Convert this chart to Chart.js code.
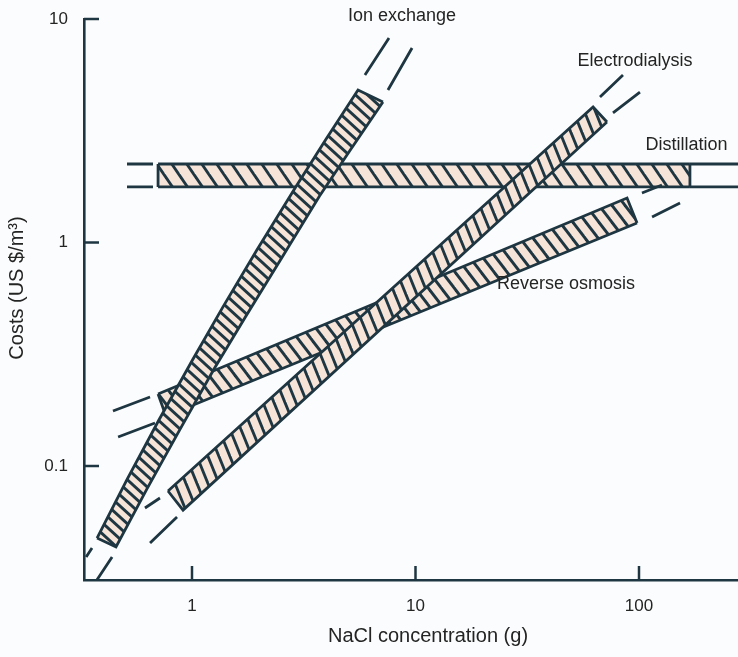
<!DOCTYPE html>
<html>
<head>
<meta charset="utf-8">
<title>Desalination costs</title>
<script src="https://cdn.jsdelivr.net/npm/chart.js@4.4.1/dist/chart.umd.min.js"></script>
<style>
    html, body { margin: 0; padding: 0; background: #fbfcfd; }
    canvas { display: block; }
</style>
</head>
<body>
<canvas id="chart" width="738" height="657"></canvas>
<script>
// Costs (US $/m3) of desalination processes against NaCl concentration, log-log

const X_TICKS = [1, 10, 100];
const Y_TICKS = [0.1, 1, 10];

// Each band is an outline split in two chains that share the first and last corner,
// so the hatched fill can run between them. Values are [g NaCl, US $/m3].
const IX_UPPER = [
    [0.376, 0.0476], [0.511, 0.0866], [0.712, 0.161], [1.005, 0.298], [1.376, 0.515],
    [1.951, 0.926], [2.911, 1.772], [3.956, 2.874], [5.53, 4.81], [7.15, 4.25]
];
const IX_LOWER = [
    [0.376, 0.0476], [0.457, 0.0434], [0.627, 0.0786], [0.881, 0.145], [1.253, 0.271],
    [1.728, 0.462], [2.471, 0.827], [3.715, 1.609], [5.082, 2.575], [7.15, 4.25]
];
const ED_UPPER = [[0.781, 0.0773], [62.3, 4.04], [71.9, 3.46]];
const ED_LOWER = [[0.781, 0.0773], [0.912, 0.0635], [71.9, 3.46]];
const RO_UPPER = [[0.705, 0.210], [88.4, 1.582], [98.0, 1.222]];
const RO_LOWER = [[0.705, 0.210], [0.765, 0.167], [98.0, 1.222]];
const DI_UPPER = [[0.705, 2.245], [169, 2.245]];
const DI_LOWER = [[0.705, 1.772], [169, 1.772]];

// extrapolated edges beyond each band (pairs of end points)
const IX_EXT = [
    [[0.357, 0.0430], [0.336, 0.0392]],
    [[0.439, 0.0392], [0.376, 0.0310]],
    [[5.94, 5.62], [7.61, 8.22]],
    [[7.53, 4.81], [9.65, 7.42]]
];
const ED_EXT = [
    [[0.719, 0.0719], [0.616, 0.0649]],
    [[0.857, 0.0591], [0.649, 0.0452]],
    [[66.9, 4.48], [84.8, 5.62]],
    [[76.5, 3.80], [101, 4.71]]
];
const RO_EXT = [
    [[0.649, 0.2035], [0.443, 0.1763]],
    [[0.683, 0.1557], [0.467, 0.1348]],
    [[103.1, 1.665], [126.7, 1.808]],
    [[114.4, 1.300], [152.6, 1.502]]
];
const DI_EXT = [
    [[0.512, 2.245], [0.669, 2.245]],
    [[0.512, 1.772], [0.669, 1.772]],
    [[0.705, 2.245], [0.705, 1.772]],
    [[169, 2.245], [169, 1.772]],
    [[169, 2.245], [290, 2.245]],
    [[169, 1.772], [290, 1.772]]
];

const LABELS = ['Ion exchange', 'Electrodialysis', 'Distillation', 'Reverse osmosis'];
const LABEL_X = [8.70, 96.0, 163, 47.1];
const LABEL_Y = [9.8, 6.16, 2.59, 0.62];

const INK = '#1e3641';
const TEXT = '#242424';
const BAND_BG = '#f7e4d9';
const FONT = "'Liberation Sans', Arial, Helvetica, sans-serif";

Chart.defaults.font.family = FONT;

// diagonal "\" hatching: step = horizontal spacing, angle from horizontal
function hatch(step, angle, lineW) {
    const w = step;
    const h = Math.max(1, Math.round(step * Math.tan(angle * Math.PI / 180)));
    const c = document.createElement('canvas');
    c.width = w;
    c.height = h;
    const g = c.getContext('2d');
    g.fillStyle = BAND_BG;
    g.fillRect(0, 0, w, h);
    g.strokeStyle = INK;
    g.lineWidth = lineW;
    [-w, 0, w].forEach(dx => {
        g.beginPath();
        g.moveTo(dx - w, -h);
        g.lineTo(dx + 2 * w, 2 * h);
        g.stroke();
    });
    return g.createPattern(c, 'repeat');
}

const pt = ([x, y]) => ({ x, y });

function segs(list) {
    const out = [];
    list.forEach(([a, b]) => {
        out.push(pt(a), pt(b), { x: b[0], y: null });
    });
    return out;
}

const lineStyle = {
    borderColor: INK,
    borderWidth: 2.8,
    pointRadius: 0,
    tension: 0,
    fill: false
};

function band(upper, lower, ext, pattern) {
    return [
        Object.assign({}, lineStyle, { data: segs(ext) }),
        Object.assign({}, lineStyle, { data: lower.map(pt) }),
        Object.assign({}, lineStyle, { data: upper.map(pt), fill: '-1', backgroundColor: pattern })
    ];
}

// first band in the list ends up on top
const datasets = [].concat(
    band(IX_UPPER, IX_LOWER, IX_EXT, hatch(12, 42, 2.9)),
    band(ED_UPPER, ED_LOWER, ED_EXT, hatch(11, 68, 2.9)),
    band(RO_UPPER, RO_LOWER, RO_EXT, hatch(13, 52, 2.9)),
    band(DI_UPPER, DI_LOWER, DI_EXT, hatch(15, 56, 2.9))
);

// tick marks point into the plot
const inwardTicks = {
    id: 'inwardTicks',
    afterDraw(chart) {
        const { ctx, chartArea: a } = chart;
        const x = chart.scales.x;
        const y = chart.scales.y;
        ctx.save();
        ctx.strokeStyle = INK;
        ctx.lineWidth = 2.5;
        X_TICKS.forEach(v => {
            const px = x.getPixelForValue(v);
            ctx.beginPath();
            ctx.moveTo(px, a.bottom);
            ctx.lineTo(px, a.bottom - 14);
            ctx.stroke();
        });
        Y_TICKS.forEach(v => {
            const py = y.getPixelForValue(v);
            ctx.beginPath();
            ctx.moveTo(a.left, py);
            ctx.lineTo(a.left + 15, py);
            ctx.stroke();
        });
        ctx.restore();
    }
};

const textLayer = {
    id: 'textLayer',
    afterDraw(chart) {
        const ctx = chart.ctx;
        const x = chart.scales.x;
        const y = chart.scales.y;
        ctx.save();
        ctx.fillStyle = TEXT;
        ctx.font = '18px ' + FONT;
        ctx.textAlign = 'center';
        ctx.textBaseline = 'alphabetic';
        LABELS.forEach((t, i) => {
            ctx.fillText(t, x.getPixelForValue(LABEL_X[i]), y.getPixelForValue(LABEL_Y[i]));
        });

        // axis titles
        ctx.font = '20px ' + FONT;
        ctx.textBaseline = 'middle';
        ctx.fillText('NaCl concentration (g)', 428, 636);
        ctx.translate(17, 288);
        ctx.rotate(-Math.PI / 2);
        ctx.fillText('Costs (US $/m³)', 0, 0);
        ctx.restore();
    }
};

new Chart(document.getElementById('chart'), {
    type: 'line',
    data: { datasets },
    options: {
        responsive: false,
        animation: false,
        layout: { padding: { top: 19, right: 0, bottom: 0, left: 0 } },
        plugins: {
            legend: { display: false },
            tooltip: { enabled: false }
        },
        scales: {
            x: {
                type: 'logarithmic',
                bounds: 'data',
                min: 0.3287,
                max: 277.3,
                afterBuildTicks: s => { s.ticks = X_TICKS.map(v => ({ value: v })); },
                afterFit: s => { s.height = 77; s.paddingLeft = 0; s.paddingRight = 0; },
                grid: { display: false },
                border: { display: true, color: INK, width: 2.6 },
                ticks: {
                    color: TEXT,
                    padding: 8,
                    font: { size: 17 },
                    maxRotation: 0,
                    callback: v => String(v)
                }
            },
            y: {
                type: 'logarithmic',
                bounds: 'data',
                min: 0.0309,
                max: 10,
                afterBuildTicks: s => { s.ticks = Y_TICKS.map(v => ({ value: v })); },
                afterFit: s => { s.width = 84; s.paddingTop = 0; s.paddingBottom = 0; },
                grid: { display: false },
                border: { display: true, color: INK, width: 2.6 },
                ticks: {
                    color: TEXT,
                    padding: 8,
                    font: { size: 17 },
                    callback: v => String(v)
                }
            }
        }
    },
    plugins: [inwardTicks, textLayer]
});
</script>
</body>
</html>
